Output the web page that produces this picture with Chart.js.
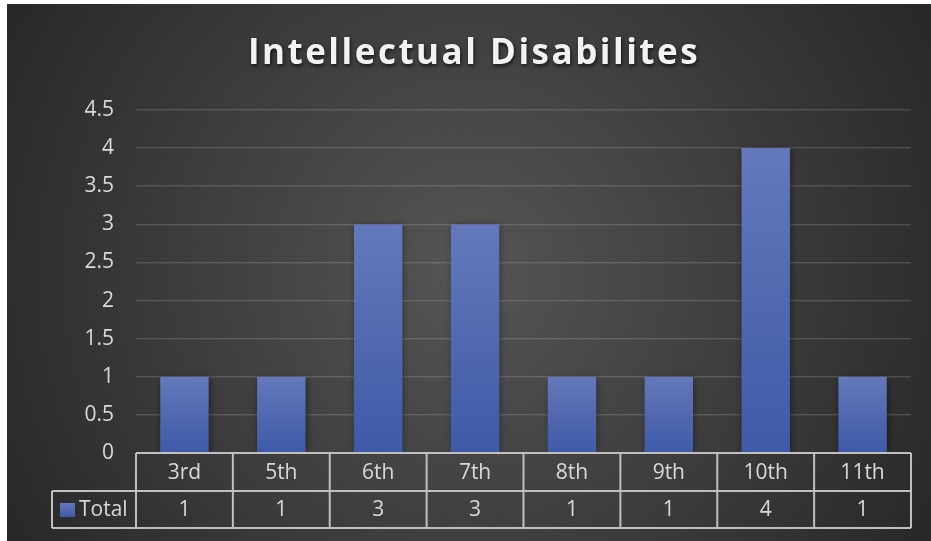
<!DOCTYPE html>
<html>
<head>
<meta charset="utf-8">
<script src="https://cdn.jsdelivr.net/npm/chart.js@4/dist/chart.umd.min.js"></script>
<style>
  html, body { margin: 0; padding: 0; background: #ffffff; }
  #wrap { position: absolute; left: 7px; top: 4px; width: 924px; height: 537px; }
</style>
</head>
<body>
<div id="wrap"><canvas id="chart"></canvas></div>
<script>
const grades = ["3rd", "5th", "6th", "7th", "8th", "9th", "10th", "11th"];
const totals = [1, 1, 3, 3, 1, 1, 4, 1];
const seriesName = "Total";
const chartTitle = "Intellectual Disabilites";

const FONT = "'Open Sans', 'Noto Sans', sans-serif";
const TEXT = "#d9d9d9";

// dark radial backdrop + title
const backdrop = {
  id: "backdrop",
  beforeDraw(chart) {
    const c = chart.ctx, w = chart.width, h = chart.height;
    const g = c.createRadialGradient(w / 2, h / 2, 0, w / 2, h / 2, w * 0.6);
    g.addColorStop(0, "#555555");
    g.addColorStop(1, "#262626");
    c.save();
    c.fillStyle = g;
    c.fillRect(0, 0, w, h);
    c.restore();
  },
  afterDraw(chart) {
    const c = chart.ctx;
    c.save();
    c.font = "bold 35px " + FONT;
    c.letterSpacing = "2.5px";
    c.textAlign = "center";
    c.textBaseline = "alphabetic";
    c.shadowColor = "rgba(0,0,0,0.7)";
    c.shadowBlur = 4;
    c.shadowOffsetX = 1;
    c.shadowOffsetY = 2;
    c.fillStyle = "#f2f2f2";
    c.fillText(chartTitle, 467, 60);
    c.restore();
  }
};

// soft shadow around the bars
const barShadow = {
  id: "barShadow",
  beforeDatasetDraw(chart) {
    const c = chart.ctx;
    c.save();
    c.shadowColor = "rgba(0,0,0,0.45)";
    c.shadowBlur = 7;
    c.shadowOffsetX = 1;
    c.shadowOffsetY = 1;
  },
  afterDatasetDraw(chart) {
    chart.ctx.restore();
  }
};

// data table under the plot
const dataTable = {
  id: "dataTable",
  afterDraw(chart) {
    const c = chart.ctx, x = chart.scales.x, area = chart.chartArea;
    const step = (area.right - area.left) / grades.length;
    const r0 = area.bottom, r1 = r0 + 38, r2 = r1 + 37;
    const legendLeft = 45;
    c.save();
    c.strokeStyle = "#bfbfbf";
    c.lineWidth = 2;
    c.beginPath();
    c.moveTo(area.left, r0); c.lineTo(area.right, r0);
    c.moveTo(legendLeft, r1); c.lineTo(area.right, r1);
    c.moveTo(legendLeft, r2); c.lineTo(area.right, r2);
    c.moveTo(legendLeft, r1); c.lineTo(legendLeft, r2);
    for (let i = 0; i <= grades.length; i++) {
      const px = area.left + i * step;
      c.moveTo(px, r0); c.lineTo(px, r2);
    }
    c.stroke();

    c.font = "21px " + FONT;
    c.fillStyle = TEXT;
    c.textAlign = "center";
    c.textBaseline = "middle";
    grades.forEach((g, i) => {
      const px = x.getPixelForValue(i);
      c.fillText(g, px, (r0 + r1) / 2 + 1);
      c.fillText(String(totals[i]), px, (r1 + r2) / 2 + 1);
    });

    const sw = c.createLinearGradient(0, r1 + 12, 0, r1 + 26);
    sw.addColorStop(0, "#6479bb");
    sw.addColorStop(1, "#3f5aa8");
    c.fillStyle = sw;
    c.fillRect(53, r1 + 12, 15, 14);
    c.fillStyle = TEXT;
    c.textAlign = "left";
    c.fillText(seriesName, 72, (r1 + r2) / 2 + 1);
    c.restore();
  }
};

const ctx = document.getElementById("chart").getContext("2d");

new Chart(ctx, {
  type: "bar",
  data: {
    labels: grades,
    datasets: [
      {
        label: seriesName,
        data: totals,
        barPercentage: 0.5,
        categoryPercentage: 1.0,
        backgroundColor: function (context) {
          const chart = context.chart;
          const y = chart.scales.y;
          if (!y || context.raw === undefined) return "#4f68b1";
          const top = y.getPixelForValue(context.raw);
          const base = y.getPixelForValue(0);
          if (!isFinite(top) || !isFinite(base) || top === base) return "#4f68b1";
          const g = chart.ctx.createLinearGradient(0, top, 0, base);
          g.addColorStop(0, "#6479bb");
          g.addColorStop(0.5, "#5268b0");
          g.addColorStop(1, "#3e5aa8");
          return g;
        },
        borderWidth: 0,
      },
    ],
  },
  options: {
    responsive: true,
    maintainAspectRatio: false,
    animation: false,
    layout: {
      padding: { top: 106, right: 20, bottom: 88, left: 0 },
    },
    plugins: {
      legend: { display: false },
      tooltip: { enabled: false },
      title: { display: false },
    },
    scales: {
      x: {
        display: false,
      },
      y: {
        min: 0,
        max: 4.5,
        ticks: {
          stepSize: 0.5,
          color: TEXT,
          font: { family: FONT, size: 21 },
          padding: 22,
          callback: function (value) {
            return String(value);
          },
        },
        grid: {
          color: "rgba(255,255,255,0.14)",
          lineWidth: 1.5,
          drawTicks: false,
        },
        border: { display: false },
        afterFit: function (scale) {
          scale.width = 129; // plot starts at x=129
        },
      },
    },
  },
  plugins: [backdrop, barShadow, dataTable],
});
</script>
</body>
</html>
